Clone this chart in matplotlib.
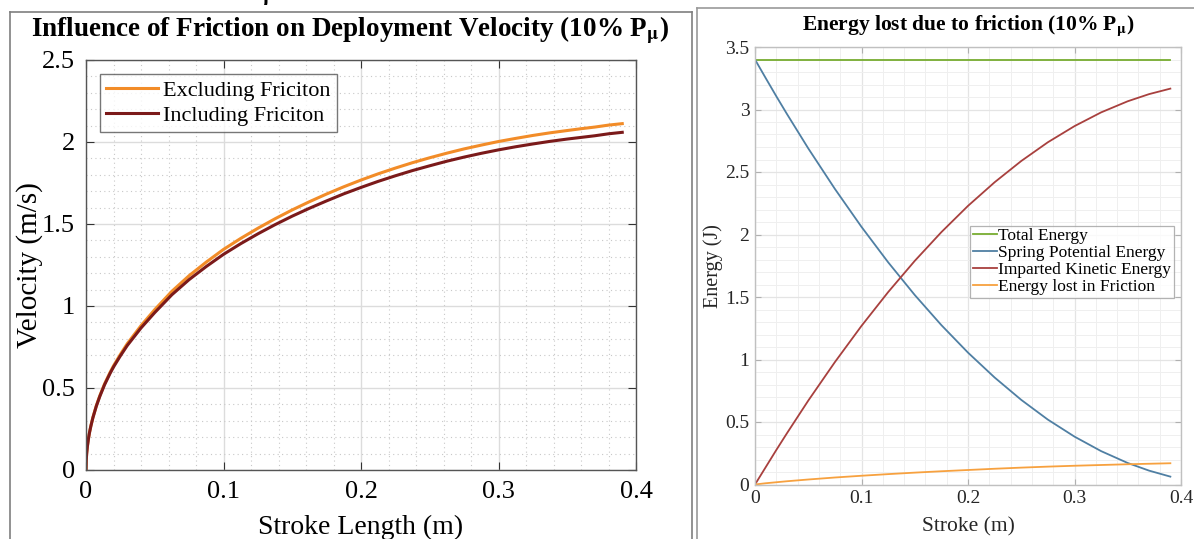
import matplotlib
matplotlib.use("Agg")
import matplotlib.pyplot as plt
from matplotlib.ticker import MultipleLocator
from matplotlib.lines import Line2D

plt.rcParams['font.family'] = ['Liberation Serif', 'DejaVu Serif']
plt.rcParams['mathtext.fontset'] = 'stix'

# ---- Left panel data: velocity vs stroke ----
stroke_v = [0, 0.0002, 0.0005, 0.001, 0.0018, 0.0025, 0.0035, 0.005, 0.0075, 0.01, 0.0135,
            0.0175, 0.02, 0.025, 0.03, 0.04, 0.05, 0.0625, 0.075, 0.0875, 0.1, 0.1125,
            0.125, 0.1375, 0.15, 0.1625, 0.175, 0.1875, 0.2, 0.2125, 0.225, 0.2375,
            0.25, 0.2625, 0.275, 0.2875, 0.3, 0.3125, 0.325, 0.3375, 0.35, 0.36, 0.37,
            0.38, 0.39]
vel_excl = [0, 0.064, 0.102, 0.144, 0.193, 0.227, 0.268, 0.320, 0.392, 0.452, 0.525,
            0.595, 0.635, 0.705, 0.770, 0.880, 0.978, 1.090, 1.185, 1.268, 1.345, 1.412,
            1.474, 1.532, 1.586, 1.636, 1.683, 1.727, 1.768, 1.806, 1.841, 1.874,
            1.904, 1.932, 1.958, 1.981, 2.003, 2.022, 2.040, 2.056, 2.070, 2.081, 2.091,
            2.103, 2.112]
vel_incl = [0, 0.064, 0.101, 0.143, 0.192, 0.226, 0.266, 0.318, 0.389, 0.448, 0.520,
            0.589, 0.628, 0.696, 0.759, 0.866, 0.960, 1.069, 1.161, 1.241, 1.315, 1.380,
            1.440, 1.496, 1.548, 1.596, 1.641, 1.684, 1.723, 1.760, 1.794, 1.826,
            1.855, 1.883, 1.908, 1.931, 1.952, 1.971, 1.988, 2.004, 2.018, 2.028, 2.038,
            2.050, 2.059]

# ---- Right panel data: energies vs stroke ----
stroke_e = [0, 0.01, 0.02, 0.03, 0.05, 0.075, 0.1, 0.125, 0.15, 0.175, 0.2, 0.225,
            0.25, 0.275, 0.3, 0.325, 0.35, 0.37, 0.39]
total_e = [3.40, 3.40, 3.40, 3.40, 3.40, 3.40, 3.40, 3.40, 3.40, 3.40, 3.40, 3.40,
           3.40, 3.40, 3.40, 3.40, 3.40, 3.40, 3.40]
spring_e = [3.40, 3.252, 3.106, 2.964, 2.689, 2.365, 2.061, 1.778, 1.516, 1.275, 1.055,
            0.856, 0.677, 0.519, 0.383, 0.267, 0.172, 0.111, 0.063]
kinetic_e = [0, 0.138, 0.276, 0.41, 0.671, 0.979, 1.269, 1.539, 1.789, 2.019, 2.229,
             2.418, 2.588, 2.738, 2.867, 2.977, 3.066, 3.123, 3.167]
friction_e = [0, 0.01, 0.018, 0.026, 0.04, 0.056, 0.07, 0.083, 0.095, 0.106, 0.116,
              0.126, 0.135, 0.143, 0.15, 0.156, 0.162, 0.166, 0.17]

W, H = 1194, 539
fig = plt.figure(figsize=(W / 100, H / 100), dpi=100)

def fx(px):
    return px / W

def fy(py):
    return 1 - py / H

# panel frames
fig.add_artist(Line2D([fx(10), fx(10)], [fy(12), 0], color='#7f7f7f', lw=1.2))
fig.add_artist(Line2D([fx(10), fx(692)], [fy(12), fy(12)], color='#7f7f7f', lw=1.2))
fig.add_artist(Line2D([fx(692), fx(692)], [fy(12), 0], color='#7f7f7f', lw=1.2))
fig.add_artist(Line2D([fx(697), fx(697)], [fy(8), 0], color='#9a9a9a', lw=1.2))
fig.add_artist(Line2D([fx(697), 1], [fy(8), fy(8)], color='#9a9a9a', lw=1.2))
# cropped subscript from above
fig.text(fx(270), fy(-3), r'$\mathbf{\mu}$', fontsize=16, ha='center', va='center')

ticks_x = [0, 0.1, 0.2, 0.3, 0.4]
ticklabels_x = ['0', '0.1', '0.2', '0.3', '0.4']

# ---------------- Left axes ----------------
axL = fig.add_axes([fx(86), fy(470), fx(636) - fx(86), fy(60) - fy(470)])
axL.plot(stroke_v, vel_excl, color='#F28C28', lw=2.2, label='Excluding Friciton')
axL.plot(stroke_v, vel_incl, color='#7B1A1A', lw=2.2, label='Including Friciton')
axL.set_xlim(0, 0.4)
axL.set_ylim(0, 2.5)
axL.set_xticks(ticks_x)
axL.set_xticklabels(ticklabels_x)
axL.set_yticks([0, 0.5, 1, 1.5, 2, 2.5])
axL.set_yticklabels(['0', '0.5', '1', '1.5', '2', '2.5'])
axL.xaxis.set_minor_locator(MultipleLocator(0.02))
axL.yaxis.set_minor_locator(MultipleLocator(0.1))
axL.grid(which='major', color='#dcdcdc', lw=1.0, ls='-')
axL.grid(which='minor', color='#c8c8c8', lw=0.8, ls=(0, (1, 3)))
axL.set_axisbelow(True)
axL.tick_params(which='major', direction='in', length=6, labelsize=19, color='#333333', pad=8)
axL.tick_params(which='minor', length=0)
axL.tick_params(axis='both', which='both', top=True, right=True)
for s in axL.spines.values():
    s.set_color('#555555')
    s.set_linewidth(1.0)
axL.set_xlabel('Stroke Length (m)', fontsize=20, va='center')
axL.set_ylabel('Velocity (m/s)', fontsize=21, va='center')
axL.xaxis.set_label_coords(0.5, -0.139)
axL.yaxis.set_label_coords(-0.102, 0.5)
leg = axL.legend(loc='upper left', bbox_to_anchor=(0.025, 0.967), fontsize=16,
                 frameon=True, fancybox=False, edgecolor='#555555', handlelength=2.3,
                 handletextpad=0.25, borderpad=0.3, labelspacing=0.2, borderaxespad=0)
leg.get_frame().set_linewidth(1.0)
fig.text(fx(350), fy(30), r'Influence of Friction on Deployment Velocity (10% P$_{\mathbf{\mu}}$)',
         fontsize=19.5, fontweight='bold', ha='center', va='center')

# ---------------- Right axes ----------------
axR = fig.add_axes([fx(755), fy(484.5), fx(1181) - fx(755), fy(47) - fy(484.5)])
axR.plot(stroke_e, total_e, color='#77AC30', lw=1.3, label='Total Energy')
axR.plot(stroke_e, spring_e, color='#4F7FA3', lw=1.3, label='Spring Potential Energy')
axR.plot(stroke_e, kinetic_e, color='#A8403E', lw=1.3, label='Imparted Kinetic Energy')
axR.plot(stroke_e, friction_e, color='#F7A13F', lw=1.3, label='Energy lost in Friction')
axR.set_xlim(0, 0.4)
axR.set_ylim(0, 3.5)
axR.set_xticks(ticks_x)
axR.set_xticklabels(ticklabels_x)
axR.set_yticks([0, 0.5, 1, 1.5, 2, 2.5, 3, 3.5])
axR.set_yticklabels(['0', '0.5', '1', '1.5', '2', '2.5', '3', '3.5'])
axR.xaxis.set_minor_locator(MultipleLocator(0.02))
axR.yaxis.set_minor_locator(MultipleLocator(0.1))
axR.grid(which='major', color='#e4e4e4', lw=0.9)
axR.grid(which='minor', color='#efefef', lw=0.7)
axR.set_axisbelow(True)
axR.tick_params(which='major', direction='in', length=4, labelsize=14, color='#b0b0b0',
                labelcolor='#262626', pad=4)
axR.tick_params(which='minor', length=0)
axR.tick_params(axis='both', which='both', top=True, right=True)
for s in axR.spines.values():
    s.set_color('#c0c0c0')
    s.set_linewidth(1.0)
axR.set_xlabel('Stroke (m)', fontsize=15.5, color='#262626', va='center')
axR.set_ylabel('Energy (J)', fontsize=14.5, color='#262626', va='center')
axR.xaxis.set_label_coords(0.5, -0.097)
axR.yaxis.set_label_coords(-0.0986, 0.5)
legR = axR.legend(loc='upper left', bbox_to_anchor=(0.505, 0.592), fontsize=12.5,
                  frameon=True, fancybox=False, edgecolor='#a0a0a0', handlelength=1.4,
                  handletextpad=0.05, borderpad=0.15, labelspacing=0.05, borderaxespad=0)
legR.get_frame().set_linewidth(0.9)
fig.text(fx(968), fy(26), r'Energy lost due to friction (10% P$_{\mathbf{\mu}}$)',
         fontsize=15.5, fontweight='bold', ha='center', va='center')

fig.savefig('out.png', dpi=100)
